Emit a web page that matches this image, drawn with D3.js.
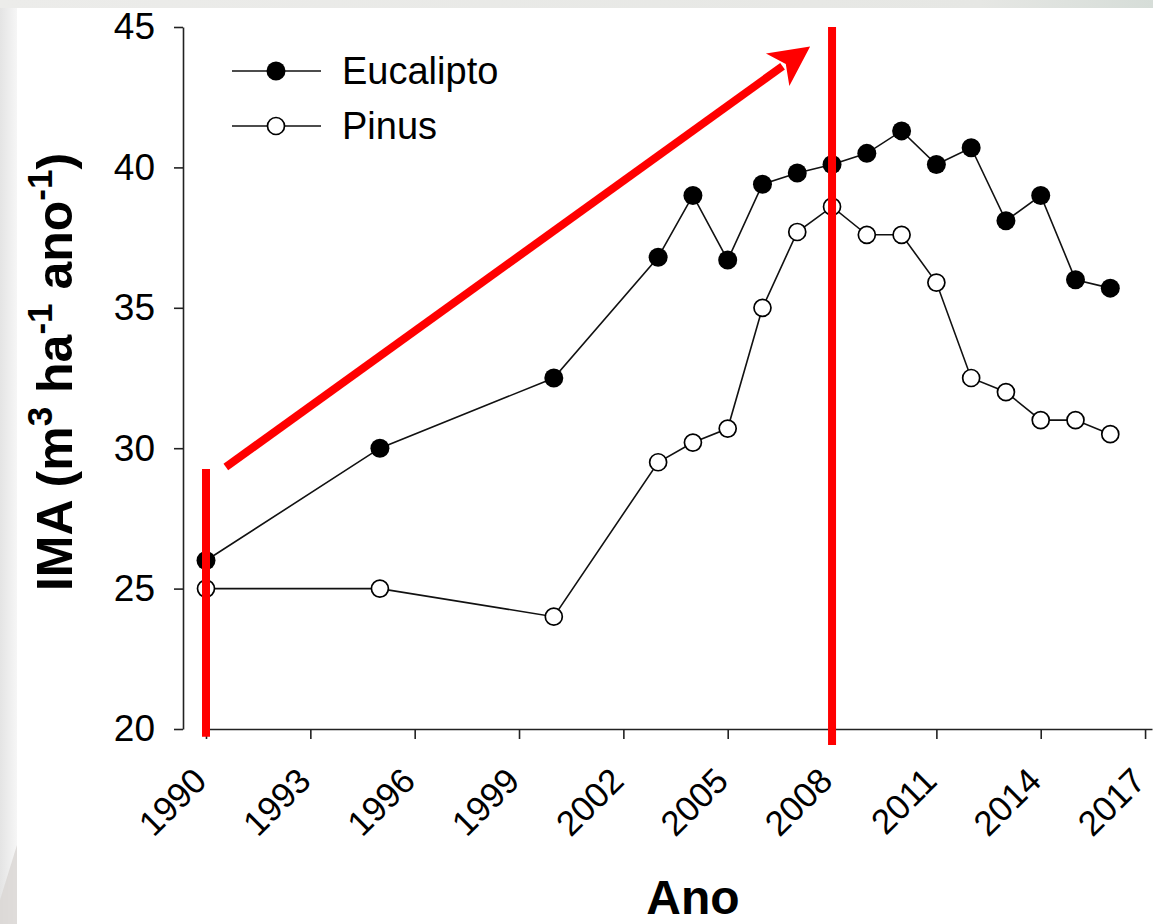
<!DOCTYPE html>
<html>
<head>
<meta charset="utf-8">
<script src="https://cdn.jsdelivr.net/npm/d3@7"></script>
<style>
  html, body { margin: 0; padding: 0; background: #ffffff; }
  svg { display: block; }
  text { font-family: Arial, "Liberation Sans", Helvetica, sans-serif; }
</style>
</head>
<body>
<svg id="chart" width="1153" height="924"></svg>
<script>
// ---- data ----
const years = [1990, 1995, 2000, 2003, 2004, 2005, 2006, 2007, 2008, 2009, 2010, 2011, 2012, 2013, 2014, 2015, 2016];
const eucalipto = [26.0, 30.0, 32.5, 36.8, 39.0, 36.7, 39.4, 39.8, 40.1, 40.5, 41.3, 40.1, 40.7, 38.1, 39.0, 36.0, 35.7];
const pinus =     [25.0, 25.0, 24.0, 29.5, 30.2, 30.7, 35.0, 37.7, 38.6, 37.6, 37.6, 35.9, 32.5, 32.0, 31.0, 31.0, 30.5];
const seriesNames = ["Eucalipto", "Pinus"];
const xTicks = [1990, 1993, 1996, 1999, 2002, 2005, 2008, 2011, 2014, 2017];
const yTicks = [20, 25, 30, 35, 40, 45];
// annotations (data coordinates)
const markYears = [1990, 2008];
const markFrom = [29.26, 45.0];
const markTo = [19.72, 19.43];
const arrowStart = [1990.57, 29.33];
const arrowEnd = [2007.37, 44.31];

const svg = d3.select("#chart");

// ---- background decoration ----
const defs = svg.append("defs");
const gTop = defs.append("linearGradient").attr("id", "gTop").attr("x1", "0").attr("x2", "1").attr("y1", "0").attr("y2", "0");
gTop.append("stop").attr("offset", "0").attr("stop-color", "#ececea");
gTop.append("stop").attr("offset", "0.85").attr("stop-color", "#e6e7e4");
gTop.append("stop").attr("offset", "1").attr("stop-color", "#d6ddd8");
const gLeft = defs.append("linearGradient").attr("id", "gLeft").attr("x1", "0").attr("x2", "1").attr("y1", "0").attr("y2", "0");
gLeft.append("stop").attr("offset", "0").attr("stop-color", "#e4e4e4");
gLeft.append("stop").attr("offset", "1").attr("stop-color", "#f6f6f6");
svg.append("rect").attr("x", 0).attr("y", 0).attr("width", 1153).attr("height", 8).attr("fill", "url(#gTop)");
svg.append("rect").attr("x", 0).attr("y", 8).attr("width", 17).attr("height", 916).attr("fill", "url(#gLeft)");
svg.append("path").attr("d", "M0,900 L17,845 L17,924 L0,924 Z").attr("fill", "#d9d6d3").attr("opacity", 0.8);

// ---- scales ----
const x = d3.scaleLinear().domain([1990, 2017.2]).range([206, 206 + 27.2 * 34.78]);
const y = d3.scaleLinear().domain([20, 45]).range([729, 27]);

// ---- axes ----
const axisColor = "#222";
const yAxis = svg.append("g").attr("transform", "translate(183,0)")
  .call(d3.axisLeft(y).tickValues(yTicks).tickSize(9).tickSizeOuter(0).tickPadding(19).tickFormat(d3.format("d")));
const xAxis = svg.append("g").attr("transform", "translate(0,729)")
  .call(d3.axisBottom(x).tickValues(xTicks).tickSize(10).tickSizeOuter(0).tickFormat(d3.format("d")));
[yAxis, xAxis].forEach(a => {
  a.select(".domain").attr("stroke", axisColor).attr("stroke-width", 1.6);
  a.selectAll(".tick line").attr("stroke", axisColor).attr("stroke-width", 1.6);
  a.selectAll(".tick text").attr("fill", "#000").style("font-size", "37px");
});
xAxis.selectAll(".tick text")
  .style("font-size", "35px")
  .attr("x", 0).attr("y", 0).attr("dy", 0)
  .attr("text-anchor", "end")
  .attr("transform", "translate(2,54) rotate(-45)");

// ---- lines & points ----
const line = d3.line().x(d => x(d[0])).y(d => y(d[1]));
const eucData = years.map((yr, i) => [yr, eucalipto[i]]);
const pinData = years.map((yr, i) => [yr, pinus[i]]);

svg.append("path").datum(pinData).attr("d", line).attr("fill", "none").attr("stroke", "#111").attr("stroke-width", 1.6);
svg.append("path").datum(eucData).attr("d", line).attr("fill", "none").attr("stroke", "#111").attr("stroke-width", 1.6);

svg.append("g").selectAll("circle").data(pinData).join("circle")
  .attr("cx", d => x(d[0])).attr("cy", d => y(d[1])).attr("r", 8.5)
  .attr("fill", "#fff").attr("stroke", "#000").attr("stroke-width", 1.7);
svg.append("g").selectAll("circle").data(eucData).join("circle")
  .attr("cx", d => x(d[0])).attr("cy", d => y(d[1])).attr("r", 9.5)
  .attr("fill", "#000");

// ---- legend ----
const legend = svg.append("g");
seriesNames.forEach((name, i) => {
  const ly = 71 + i * 55;
  legend.append("line").attr("x1", 232).attr("x2", 321).attr("y1", ly).attr("y2", ly).attr("stroke", "#111").attr("stroke-width", 1.6);
  legend.append("circle").attr("cx", 276).attr("cy", ly).attr("r", i === 0 ? 9.5 : 8.5)
    .attr("fill", i === 0 ? "#000" : "#fff").attr("stroke", "#000").attr("stroke-width", i === 0 ? 0 : 1.7);
  legend.append("text").attr("x", 342).attr("y", ly).attr("dy", "0.35em").style("font-size", "38px").attr("fill", "#000").text(name);
});

// ---- axis titles ----
svg.append("text").attr("x", 693).attr("y", 914).attr("text-anchor", "middle")
  .style("font-size", "48px").style("font-weight", "bold").text("Ano");

const yt = svg.append("text").attr("transform", "translate(72,372) rotate(-90)").attr("text-anchor", "middle")
  .style("font-size", "50px").style("font-weight", "bold");
yt.append("tspan").text("IMA (m");
yt.append("tspan").attr("dy", -20).style("font-size", "35px").text("3");
yt.append("tspan").attr("dy", 20).text(" ha");
yt.append("tspan").attr("dy", -20).style("font-size", "35px").text("-1");
yt.append("tspan").attr("dy", 20).text(" ano");
yt.append("tspan").attr("dy", -20).style("font-size", "35px").text("-1");
yt.append("tspan").attr("dy", 20).text(")");

// ---- red annotations ----
const red = "#ff0000";
markYears.forEach((yr, i) => {
  svg.append("line").attr("x1", x(yr)).attr("x2", x(yr)).attr("y1", y(markFrom[i])).attr("y2", y(markTo[i]))
    .attr("stroke", red).attr("stroke-width", 8);
});
const ax0 = x(arrowStart[0]), ay0 = y(arrowStart[1]);
const ax1 = x(arrowEnd[0]), ay1 = y(arrowEnd[1]);
const ang = Math.atan2(ay1 - ay0, ax1 - ax0);
const headLen = 40, headHalf = 20;
const bx = ax1 - headLen * Math.cos(ang), by = ay1 - headLen * Math.sin(ang);
svg.append("line").attr("x1", ax0).attr("y1", ay0).attr("x2", bx + 6 * Math.cos(ang)).attr("y2", by + 6 * Math.sin(ang))
  .attr("stroke", red).attr("stroke-width", 8);
const px = -Math.sin(ang), py = Math.cos(ang);
svg.append("path")
  .attr("d", `M${ax1},${ay1} L${bx + headHalf * px},${by + headHalf * py} L${bx + 10 * Math.cos(ang)},${by + 10 * Math.sin(ang)} L${bx - headHalf * px},${by - headHalf * py} Z`)
  .attr("fill", red);
</script>
</body>
</html>
